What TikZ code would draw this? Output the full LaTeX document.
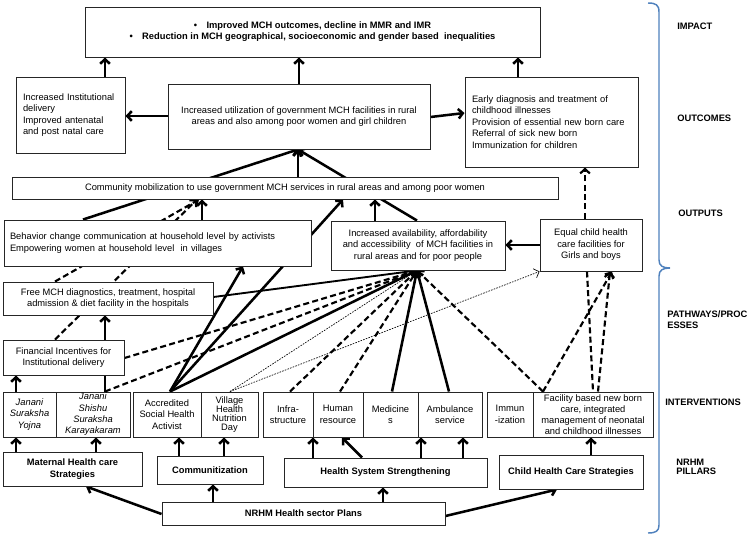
\documentclass[tikz,border=0pt]{standalone}
\usepackage{fontspec}
\setmainfont{Liberation Sans}
\usetikzlibrary{arrows.meta,calc,shadows}
\pgfdeclarelayer{bg}
\pgfsetlayers{bg,main}
\newcommand{\myfs}{\fontsize{7}{8.6}\selectfont}
\definecolor{brk}{HTML}{4F81BD}
\begin{document}
\begin{tikzpicture}[x=0.75pt,y=-0.75pt,
  >={Straight Barb[length=3.4pt,width=7.2pt]},
  box/.style={draw=black!85, line width=0.7pt, fill=white, inner sep=0pt, align=center, font=\myfs,
    drop shadow={shadow xshift=0.8pt,shadow yshift=-0.8pt,fill=black!30,opacity=0.45}},
  sz/.style 2 args={minimum width=#1*0.75pt, minimum height=#2*0.75pt},
  bold/.style={font=\myfs\bfseries},
  ital/.style={font=\myfs\itshape},
  lbl/.style={anchor=west, inner sep=0pt, align=left, font=\fontsize{7}{8.6}\selectfont\bfseries},
  ar/.style={line width=1.9pt, ->},
  ln/.style={line width=1.9pt},
  dsh/.style={line width=1.6pt, dash pattern=on 4.5pt off 2.5pt},
  dar/.style={dsh, ->},
  dot/.style={line width=0.5pt, dash pattern=on 1.2pt off 0.9pt},
  medl/.style={line width=1.4pt}]
\useasboundingbox (0,0) rectangle (749,539);

% outcome / impact level
\node[box, sz={455}{50}, font=\fontsize{7}{8.3}\selectfont\bfseries] (impact) at (312.5,32)
  {\textbullet\hspace{7pt}Improved MCH outcomes, decline in MMR and IMR\\
   \textbullet\hspace{7pt}Reduction in MCH geographical, socioeconomic and gender based\ \ inequalities};
\node[box, sz={109}{76}, align=left, text width=71.25pt] (outL) at (70.5,115)
  {Increased Institutional\\delivery\\Improved antenatal\\and post natal care};
\node[box, sz={262}{65}] (outM) at (299,116.5)
  {Increased utilization of government MCH facilities in rural\\areas and also among poor women and girl children};
\node[box, sz={173}{90}, align=left, text width=119.25pt] (outR) at (551.5,122)
  {Early diagnosis and treatment of\\childhood illnesses\\Provision of essential new born care\\Referral of sick new born\\Immunization for children};

% outputs
\node[box, sz={546}{22}] (comm) at (285,188)
  {Community mobilization to use government MCH services in rural areas and among poor women};
\node[box, sz={307}{46}, align=left, text width=221.25pt] (behav) at (157.5,243)
  {Behavior change communication at household level by activists\\Empowering women at household level\ \ in villages};
\node[box, sz={174}{49}] (avail) at (418,245.5)
  {Increased availability, affordability\\and accessibility\ \ of MCH facilities in\\rural areas and for poor people};
\node[box, sz={102}{52}] (equal) at (591,245)
  {Equal child health\\care facilities for\\Girls and boys};

% pathways
\node[box, sz={210}{33}] (free) at (108,298.5)
  {Free MCH diagnostics, treatment, hospital\\admission \& diet facility in the hospitals};
\node[box, sz={121}{35}] (fin) at (63.5,357.5)
  {Financial Incentives for\\Institutional delivery};

% interventions
\node[box, ital, sz={53}{45}] (jsy) at (29.5,414.5) {Janani\\Suraksha\\Yojna};
\node[box, sz={74}{45}, font=\fontsize{7}{8.5}\selectfont\itshape] (jssk) at (93,414.5) {Janani\\Shishu\\Suraksha\\Karayakaram};
\node[box, sz={68}{45}] (asha) at (167,414.5) {Accredited\\Social Health\\Activist};
\node[box, sz={57}{45}, font=\fontsize{7}{6.8}\selectfont] (vhnd) at (229.5,414.5) {Village\\Health\\Nutrition\\Day};
\node[box, sz={50}{45}] (infra) at (288,414.5) {Infra-\\structure};
\node[box, sz={50}{45}] (hr) at (338,414.5) {Human\\resource};
\node[box, sz={55}{45}] (med) at (390.5,414.5) {Medicine\\s};
\node[box, sz={64}{45}] (amb) at (450,414.5) {Ambulance\\service};
\node[box, sz={46}{45}] (imm) at (510,414.5) {Immun\\-ization};
\node[box, sz={120}{45}, font=\fontsize{7}{8.4}\selectfont] (fac) at (593,414.5)
  {Facility based new born\\care, integrated\\management of neonatal\\and childhood illnesses};

% pillars
\node[box, bold, sz={139}{34}] (mat) at (72.5,469) {Maternal Health care\\Strategies};
\node[box, bold, sz={106}{28}] (comz) at (210,470) {Communitization};
\node[box, bold, sz={203}{29}] (hss) at (385.5,472.5) {Health System Strengthening};
\node[box, bold, sz={144}{34}] (child) at (571,472) {Child Health Care Strategies};
\node[box, bold, sz={283}{23}] (nrhm) at (303.5,513.5) {NRHM Health sector Plans};

% level labels
\node[lbl] (l1) at (677,26) {IMPACT};
\node[lbl] (l2) at (677,118) {OUTCOMES};
\node[lbl] (l3) at (678,213) {OUTPUTS};
\node[lbl] (l4) at (667,319.5) {PATHWAYS/PROC\\ESSES};
\node[lbl] (l5) at (665,402) {INTERVENTIONS};
\node[lbl, font=\fontsize{7}{6.6}\selectfont\bfseries] (l6) at (676,467) {NRHM\\PILLARS};

% bracket
\draw[brk, line width=1.1pt] (648,3) .. controls (656,3) and (659,5) .. (659,12)
  -- (659,260) .. controls (659,266) and (663,268) .. (670,268)
  .. controls (663,268) and (659,270) .. (659,276)
  -- (659,525) .. controls (659,531) and (656,533) .. (648,533);

\coordinate (avhub) at (avail.south -| 417,0);
\coordinate (mhub) at (outM.south -| 298,0);

\begin{pgfonlayer}{bg}
\draw[ar] (outL.north -| 105,0) -- (impact.south -| 105,0);
\draw[ar] (outM.north -| 299,0) -- (impact.south -| 299,0);
\draw[ar] (outR.north -| 518,0) -- (impact.south -| 518,0);
\draw[ar] (outM.west |- 0,116) -- (outL.east |- 0,116);
\draw[ar] (outM.east |- 0,117) -- (outR.west |- 0,113);
\draw[ar] (behav.north -| 83,0) -- (mhub);
\draw[ar] (comm.north -| 298,0) -- (mhub);
\draw[ar] (avail.north -| 417,0) -- (mhub);
\draw[ar] (behav.north -| 202,0) -- (comm.south -| 202,0);
\draw[dar] (fin.north -| 55,0) -- (comm.south -| 197,0);
\draw[dar] (free.north -| 55,0) -- (comm.south -| 199,0);
\draw[ar] (asha.north -| 170,0) -- (behav.south -| 243,0);
\draw[ar] (asha.north -| 170,0) -- (comm.south -| 343,0);
\draw[ar] (avail.north -| 375,0) -- (comm.south -| 375,0);
\draw[ar] (equal.west) -- (avail.east |- equal.west);
\draw[dar] (equal.north -| 585,0) -- (outR.south -| 585,0);
\draw[medl,->] (free.east |- 0,297) -- (avhub);
\draw[dar] (fin.east |- 0,358) -- (avhub);
\draw[dar] (jssk.north -| 105,0) -- (avhub);
\draw[ar] (asha.north -| 170,0) -- (avhub);
\draw[dot,->] (vhnd.north -| 230,0) -- (avhub);
\draw[dot,->] (vhnd.north -| 230,0) -- (equal.south west);
\draw[dar] (infra.north -| 290,0) -- (avhub);
\draw[dar] (hr.north -| 340,0) -- (avhub);
\draw[ar] (med.north -| 392,0) -- (avhub);
\draw[ar] (amb.north -| 449,0) -- (avhub);
\draw[dar] (fac.north -| 543,0) -- (avhub);
\draw[dar] (fac.north -| 543,0) -- (equal.south -| 612,0);
\draw[dar] (fac.north -| 598,0) -- (equal.south -| 610,0);
\draw[dsh] (equal.south -| 587,0) -- (fac.north -| 593,0);
\draw[ar] (jsy.north -| 16,0) -- (fin.south -| 16,0);
\draw[ln] (jssk.north -| 105,0) -- (fin.south -| 105,0);
\draw[ar] (fin.north -| 105,0) -- (free.south -| 105,0);
\draw[ar] (mat.north -| 16,0) -- (jsy.south -| 16,0);
\draw[ar] (mat.north -| 96,0) -- (jssk.south -| 96,0);
\draw[ar] (comz.north -| 179,0) -- (asha.south -| 179,0);
\draw[ar] (comz.north -| 224,0) -- (vhnd.south -| 224,0);
\draw[ar] (hss.north -| 313,0) -- (infra.south -| 313,0);
\draw[ar] (hss.north -| 362,0) -- (hr.south -| 342,0);
\draw[ar] (hss.north -| 421,0) -- (amb.south -| 421,0);
\draw[ar] (hss.north -| 463,0) -- (amb.south -| 463,0);
\draw[ar] (child.north -| 591,0) -- (fac.south -| 591,0);
\draw[ar] (nrhm.west |- 0,514) -- (mat.south -| 86,0);
\draw[ar] (nrhm.north -| 213,0) -- (comz.south -| 213,0);
\draw[ar] (nrhm.north -| 383,0) -- (hss.south -| 383,0);
\draw[ar] (nrhm.east |- 0,516) -- (child.south -| 557,0);
\end{pgfonlayer}
\end{tikzpicture}
\end{document}
